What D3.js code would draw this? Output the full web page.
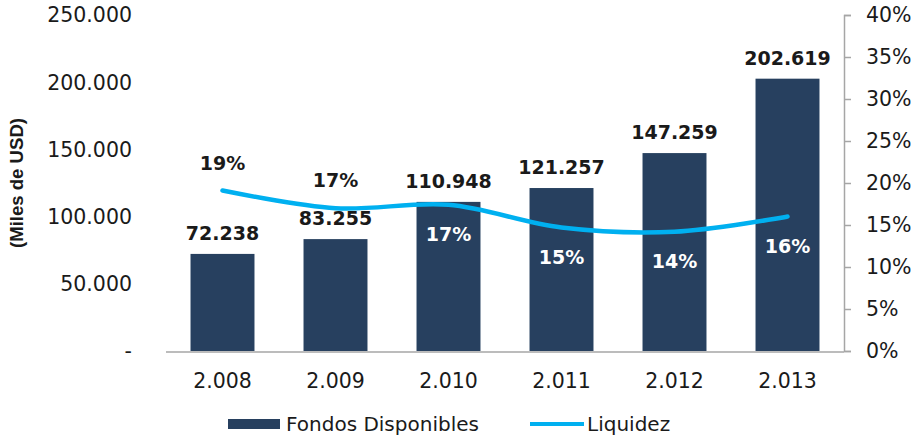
<!DOCTYPE html>
<html>
<head>
<meta charset="utf-8">
<title>Fondos Disponibles y Liquidez</title>
<style>
  body { margin: 0; background: #fff; }
  text { font-family: "DejaVu Sans", Verdana, sans-serif; fill: #1a1a1a; }
  .tick-lbl { font-size: 20.5px; }
  .val-lbl { font-size: 19px; font-weight: bold; text-anchor: middle; }
</style>
</head>
<body>
<div id="chart"></div>
<script src="https://cdn.jsdelivr.net/npm/d3@7"></script>
<script>
// data
var years = ["2.008", "2.009", "2.010", "2.011", "2.012", "2.013"];
var fondos = [72238, 83255, 110948, 121257, 147259, 202619];
var liquidez = [0.191, 0.170, 0.174, 0.147, 0.142, 0.160];
var liquidezLabels = ["19%", "17%", "17%", "15%", "14%", "16%"];
var leftTicks = [0, 50000, 100000, 150000, 200000, 250000];
var rightTicks = [0, 0.05, 0.10, 0.15, 0.20, 0.25, 0.30, 0.35, 0.40];

var width = 916,
    height = 436;

var x0 = 166, x1 = 844, yTop = 15, yBot = 351;

var svg = d3.select("#chart").append("svg")
    .attr("width", width)
    .attr("height", height);

var x = d3.scaleBand()
    .domain(years)
    .range([x0, x1])
    .paddingInner(0.434)
    .paddingOuter(0.217);

var yL = d3.scaleLinear().domain([0, 250000]).range([yBot, yTop]);
var yR = d3.scaleLinear().domain([0, 0.40]).range([yBot, yTop]);

var fmt = function(v) {
    if (v === 0) return "-";
    return d3.format(",")(v).replace(/,/g, ".");
};

// left axis labels (no line)
svg.append("g").selectAll("text")
    .data(leftTicks)
    .enter().append("text")
    .attr("class", "tick-lbl")
    .attr("x", 132)
    .attr("y", function(d) { return yL(d); })
    .attr("dy", "0.36em")
    .attr("text-anchor", "end")
    .text(fmt);

// y axis title
svg.append("text")
    .attr("transform", "translate(23," + 183 + ") rotate(-90)")
    .attr("text-anchor", "middle")
    .attr("textLength", 130)
    .attr("lengthAdjust", "spacingAndGlyphs")
    .style("font-family", "'Liberation Sans', Arial, sans-serif")
    .style("font-size", "19px")
    .style("font-weight", "bold")
    .text("(Miles de USD)");

// right axis
var rAxis = d3.axisRight(yR)
    .tickValues(rightTicks)
    .tickSize(7)
    .tickPadding(15)
    .tickFormat(d3.format(".0%"));

var rg = svg.append("g")
    .attr("transform", "translate(" + x1 + ",0)")
    .call(rAxis);
rg.select(".domain").attr("stroke", "#a6a6a6").attr("stroke-width", 1.5);
rg.selectAll(".tick line").attr("stroke", "#a6a6a6").attr("stroke-width", 1.5);
rg.selectAll(".tick text")
    .attr("class", "tick-lbl")
    .style("font-family", "'DejaVu Sans', Verdana, sans-serif")
    .attr("fill", "#1a1a1a");

// bars
svg.append("g").selectAll("rect")
    .data(fondos)
    .enter().append("rect")
    .attr("x", function(d, i) { return x(years[i]); })
    .attr("y", function(d) { return yL(d); })
    .attr("width", x.bandwidth())
    .attr("height", function(d) { return yBot - yL(d); })
    .attr("fill", "#27405f");

// baseline
svg.append("line")
    .attr("x1", x0).attr("x2", x1)
    .attr("y1", yBot + 1).attr("y2", yBot + 1)
    .attr("stroke", "#a6a6a6")
    .attr("stroke-width", 1.5);

// x labels
svg.append("g").selectAll("text")
    .data(years)
    .enter().append("text")
    .attr("class", "tick-lbl")
    .attr("x", function(d) { return x(d) + x.bandwidth() / 2; })
    .attr("y", 388)
    .attr("text-anchor", "middle")
    .text(function(d) { return d; });

// bar value labels
svg.append("g").selectAll("text")
    .data(fondos)
    .enter().append("text")
    .attr("class", "val-lbl")
    .attr("x", function(d, i) { return x(years[i]) + x.bandwidth() / 2; })
    .attr("y", function(d) { return yL(d) - 14; })
    .text(fmt);

// liquidez line
var cx = function(i) { return x(years[i]) + x.bandwidth() / 2; };
var line = d3.line()
    .x(function(d, i) { return cx(i); })
    .y(function(d) { return yR(d); })
    .curve(d3.curveCatmullRom.alpha(0.5));

svg.append("path")
    .datum(liquidez)
    .attr("d", line)
    .attr("fill", "none")
    .attr("stroke", "#00b0f0")
    .attr("stroke-width", 4.5)
    .attr("stroke-linecap", "round");

// liquidez labels: first two above in black, rest below in white
svg.append("g").selectAll("text")
    .data(liquidez)
    .enter().append("text")
    .attr("class", "val-lbl")
    .attr("x", function(d, i) { return cx(i); })
    .attr("y", function(d, i) { return i < 2 ? yR(d) - 21 : yR(d) + 36; })
    .style("fill", function(d, i) { return i < 2 ? "#1a1a1a" : "#ffffff"; })
    .text(function(d, i) { return liquidezLabels[i]; });

// legend
var lg = svg.append("g");
lg.append("rect")
    .attr("x", 228).attr("y", 419)
    .attr("width", 52).attr("height", 10)
    .attr("fill", "#27405f");
lg.append("text")
    .attr("x", 286).attr("y", 431)
    .style("font-size", "20px")
    .text("Fondos Disponibles");
lg.append("line")
    .attr("x1", 530).attr("x2", 584)
    .attr("y1", 424).attr("y2", 424)
    .attr("stroke", "#00b0f0")
    .attr("stroke-width", 4);
lg.append("text")
    .attr("x", 587).attr("y", 431)
    .style("font-size", "20px")
    .text("Liquidez");
</script>
</body>
</html>
